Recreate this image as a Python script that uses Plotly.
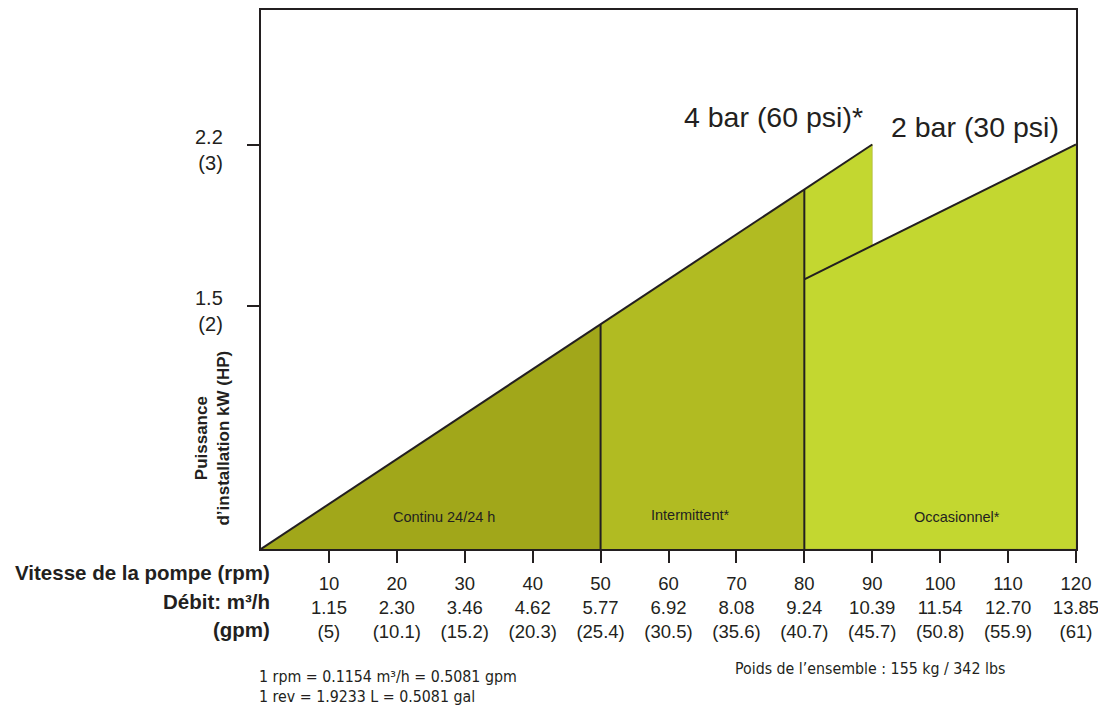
import plotly.graph_objects as go

# ---- data ----
rpm_ticks = [10, 20, 30, 40, 50, 60, 70, 80, 90, 100, 110, 120]
flow_m3h = ["1.15", "2.30", "3.46", "4.62", "5.77", "6.92", "8.08", "9.24", "10.39", "11.54", "12.70", "13.85"]
flow_gpm = ["(5)", "(10.1)", "(15.2)", "(20.3)", "(25.4)", "(30.5)", "(35.6)", "(40.7)", "(45.7)", "(50.8)", "(55.9)", "(61)"]

power_max = 2.2            # kW at end of each pressure line
rpm_max_4bar = 90          # 4 bar (60 psi) line reaches 2.2 at 90 rpm
rpm_max_2bar = 120         # 2 bar (30 psi) line reaches 2.2 at 120 rpm
zone_limits = [0, 50, 80, 120]   # continu / intermittent / occasionnel
zone_names = ["Continu 24/24 h", "Intermittent*", "Occasionnel*"]
zone_colors = ["#a1a71a", "#b1bb22", "#c3d730"]

ytick_vals = [1.322, 2.2]
ytick_text = ["1.5<br>(2)", "2.2<br>(3)"]

def p4(x):
    return power_max * x / rpm_max_4bar

def p2(x):
    return power_max * x / rpm_max_2bar

FONT = "Liberation Sans, Arial, Helvetica, sans-serif"
FOOT = "DejaVu Sans Condensed, sans-serif"
TXT = "#231f20"
LINE = "#231f20"

fig = go.Figure()

a, b, c, d = zone_limits
fig.add_trace(go.Scatter(x=[a, b, b, a], y=[0, p4(b), 0, 0], fill="toself",
                         fillcolor=zone_colors[0], mode="lines", line=dict(width=0),
                         hoverinfo="skip", showlegend=False))
fig.add_trace(go.Scatter(x=[b, b, c, c, b], y=[0, p4(b), p4(c), 0, 0], fill="toself",
                         fillcolor=zone_colors[1], mode="lines", line=dict(width=0),
                         hoverinfo="skip", showlegend=False))
fig.add_trace(go.Scatter(x=[c, c, rpm_max_4bar, rpm_max_4bar, d, d, c],
                         y=[0, p4(c), p4(rpm_max_4bar), p2(rpm_max_4bar), p2(d), 0, 0],
                         fill="toself", fillcolor=zone_colors[2], mode="lines",
                         line=dict(width=0.6, color="#a8b03a"),
                         hoverinfo="skip", showlegend=False))
fig.add_trace(go.Scatter(x=[0, rpm_max_4bar], y=[0, p4(rpm_max_4bar)], mode="lines",
                         line=dict(color=LINE, width=2), hoverinfo="skip", showlegend=False))
fig.add_trace(go.Scatter(x=[c, d], y=[p2(c), p2(d)], mode="lines",
                         line=dict(color=LINE, width=2), hoverinfo="skip", showlegend=False))
for xv in [b, c]:
    fig.add_trace(go.Scatter(x=[xv, xv], y=[0, p4(xv)], mode="lines",
                             line=dict(color=LINE, width=2), hoverinfo="skip", showlegend=False))

zone_label_pos = [(27, 0.173), (63.2, 0.184), (102.5, 0.173)]
for name, (xv, yv) in zip(zone_names, zone_label_pos):
    fig.add_annotation(x=xv, y=yv, text=name, showarrow=False, xanchor="center", yanchor="middle",
                       font=dict(family=FONT, size=14.5, color=TXT))

fig.add_annotation(x=75.4, y=2.347, text="4 bar (60 psi)*", showarrow=False,
                   xanchor="center", yanchor="middle",
                   font=dict(family=FONT, size=28.5, color=TXT))
fig.add_annotation(x=105.2, y=2.297, text="2 bar (30 psi)", showarrow=False,
                   xanchor="center", yanchor="middle",
                   font=dict(family=FONT, size=28.5, color=TXT))

for yv, t in zip(ytick_vals, ytick_text):
    fig.add_annotation(xref="paper", x=0, xshift=-36, xanchor="right", y=yv, yanchor="top",
                       yshift=21, text=t, align="right", showarrow=False,
                       font=dict(family=FONT, size=20, color=TXT))

fig.add_annotation(xref="paper", yref="paper", x=-0.0601, y=0.205, xanchor="center", yanchor="middle",
                   text="<b>Puissance<br>d’installation kW (HP)</b>",
                   textangle=-90, showarrow=False, font=dict(family=FONT, size=17, color=TXT))

row_labels = ["Vitesse de la pompe (rpm)", "Débit: m³/h", "(gpm)"]
row_y = [-0.0444, -0.098, -0.1497]
for t, yv in zip(row_labels, row_y):
    fig.add_annotation(xref="paper", yref="paper", x=0.0135, y=yv, xanchor="right", yanchor="middle",
                       text="<b>" + t + "</b>", showarrow=False,
                       font=dict(family=FONT, size=20.5, color=TXT))

fig.add_annotation(xref="paper", yref="paper", x=-0.0049, y=-0.2366, xanchor="left", yanchor="middle",
                   text="1 rpm = 0.1154 m³/h = 0.5081 gpm", showarrow=False,
                   font=dict(family=FOOT, size=15.8, color=TXT))
fig.add_annotation(xref="paper", yref="paper", x=-0.0049, y=-0.2736, xanchor="left", yanchor="middle",
                   text="1 rev = 1.9233 L = 0.5081 gal", showarrow=False,
                   font=dict(family=FOOT, size=15.8, color=TXT))
fig.add_annotation(xref="paper", yref="paper", x=0.579, y=-0.2218, xanchor="left", yanchor="middle",
                   text="Poids de l’ensemble : 155 kg / 342 lbs", showarrow=False,
                   font=dict(family=FOOT, size=15.8, color=TXT))

xticktext = [f"{r}<br>{m}<br>{g}" for r, m, g in zip(rpm_ticks, flow_m3h, flow_gpm)]

fig.update_xaxes(range=[0, 120], tickvals=rpm_ticks, ticktext=xticktext,
                 ticks="outside", ticklen=12, tickwidth=2, tickcolor=LINE,
                 ticklabelstandoff=5,
                 showline=True, linecolor=LINE, linewidth=2, mirror=True,
                 showgrid=False, zeroline=False,
                 tickfont=dict(family=FONT, size=18.5, color=TXT))
fig.update_yaxes(range=[0, 2.9315], tickvals=ytick_vals, ticktext=["", ""],
                 ticks="outside", ticklen=12, tickwidth=2, tickcolor=LINE,
                 showline=True, linecolor=LINE, linewidth=2, mirror=True,
                 showgrid=False, zeroline=False)

fig.update_layout(width=1098, height=701, plot_bgcolor="white", paper_bgcolor="white",
                  margin=dict(l=253, r=30, t=0, b=160, pad=0), showlegend=False)

fig.write_html("out.html")
